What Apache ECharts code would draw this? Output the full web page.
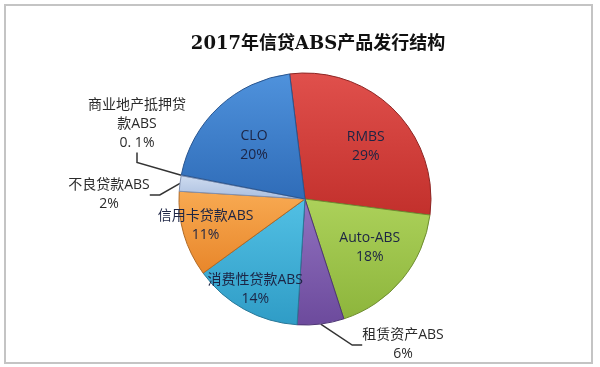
<!DOCTYPE html>
<html><head><meta charset="utf-8">
<script src="https://cdn.jsdelivr.net/npm/echarts@6/dist/echarts.min.js"></script>
<style>html,body{margin:0;padding:0;background:#fff}#c{width:600px;height:367px}</style>
</head><body><div id="c"></div>
<script>
const categories = ['RMBS','Auto-ABS','租赁资产ABS','消费性贷款ABS','信用卡贷款ABS','不良贷款ABS','商业地产抵押贷款ABS','CLO'];
const labelNames = ['RMBS','Auto-ABS','租赁资产ABS','消费性贷款ABS','信用卡贷款ABS','不良贷款ABS','商业地产抵押贷\n款ABS','CLO'];
const values = [29, 18, 6, 14, 11, 2, 0.1, 20];
const percentLabels = ['29%','18%','6%','14%','11%','2%','0. 1%','20%'];
const titleText = '2017年信贷ABS产品发行结构';

const colors = [
  ['#e0504c','#c2302c'],
  ['#acd15a','#8db53c'],
  ['#9172c0','#6c4a9c'],
  ['#52c0e4','#2f9cc6'],
  ['#f8aa52','#e8862a'],
  ['#cfdcf0','#a9bedf'],
  ['#cfdcf0','#a9bedf'],
  ['#4f92dc','#2f6cb8']
];
const borderColors = ['#8e2624','#6f8d30','#4e3674','#2a7898','#b06a26','#8090b0','#8090b0','#2a5690'];
const outside = {2:true,5:true,6:true};
// label placement tweaks (offsets for inner labels, anchor for outer labels)
const innerShift = {0:[14,-6],1:[14,6],3:[-18,33],4:[-36,8],7:[-6,-5]};
const outerAnchor = {2:[403,345],5:[109,195],6:[137,124]};

const data = categories.map((c, i) => ({
  name: c,
  value: values[i],
  itemStyle: {
    color: new echarts.graphic.LinearGradient(0, 0, 0, 1, [
      {offset: 0, color: colors[i][0]}, {offset: 1, color: colors[i][1]}
    ]),
    borderColor: borderColors[i]
  },
  label: outside[i] ? {
    position: 'outside', color: '#2b2b2b'
  } : {
    position: 'inside', color: '#1c2444'
  },
  labelLine: {show: !!outside[i]}
}));

const chart = echarts.init(document.getElementById('c'), null, {renderer: 'canvas'});
chart.setOption({
  backgroundColor: '#ffffff',
  animation: false,
  title: {
    text: titleText, left: 313, top: 30, textAlign: 'center',
    textStyle: {fontFamily: '"DejaVu Serif", "Noto Sans CJK SC", serif', fontSize: 18, fontWeight: 'bold', color: '#111'}
  },
  graphic: [{
    type: 'rect', shape: {x: 5, y: 5, width: 587, height: 358},
    style: {fill: 'none', stroke: '#c4c4c4', lineWidth: 2}, silent: true
  }],
  series: [{
    type: 'pie',
    center: [305, 199],
    radius: 126,
    startAngle: 97,
    clockwise: true,
    data: data,
    itemStyle: {borderWidth: 1},
    label: {
      show: true,
      formatter: p => labelNames[p.dataIndex] + '\n' + percentLabels[p.dataIndex],
      fontFamily: '"Open Sans", "Noto Sans CJK SC", sans-serif',
      fontSize: 14, lineHeight: 19, align: 'center'
    },
    labelLine: {show: true, length: 10, length2: 10, lineStyle: {color: '#333', width: 1.5}},
    labelLayout: function (p) {
      const i = p.dataIndex;
      if (outerAnchor[i]) {
        return {x: outerAnchor[i][0], y: outerAnchor[i][1], align: 'center', verticalAlign: 'middle'};
      }
      const s = innerShift[i] || [0, 0];
      return {dx: s[0], dy: s[1]};
    }
  }]
});
</script>
</body></html>
